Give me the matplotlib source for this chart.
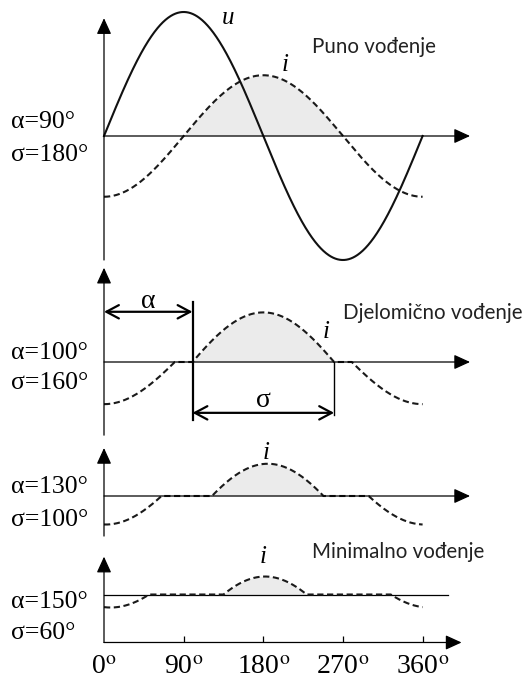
import numpy as np
import matplotlib.pyplot as plt

plt.rcParams['mathtext.fontset'] = 'stix'

# upravljacki kut i kut vodjenja (stupnjevi)
alpha = [90, 100, 130, 150]
sigma = [180, 160, 100, 60]
alpha_lbl = ['α=90°', 'α=100°', 'α=130°', 'α=150°']
sigma_lbl = ['σ=180°', 'σ=160°', 'σ=100°', 'σ=60°']
modes = ['Puno vođenje', 'Djelomično vođenje', '', 'Minimalno vođenje']

# struja i - ocitano sa slike
pos_start = [90, 100, 122, 135]
pos_end = [270, 260, 248, 229]
neg_end = [90, 80, 65, 51]
neg_start = [270, 280, 299, 324]
i_peak = [0.49, 0.40, 0.26, 0.145]
i_min = [-0.49, -0.34, -0.23, -0.105]
u_amp = 1.0

ticks = [0, 90, 180, 270, 360]
tick_lbl = ['0', '90', '180', '270', '360']

W, H = 528, 684
S = 124.0            # px po jedinici
X0, KX = 104, 0.885  # px za 0 stupnjeva, px po stupnju
bands = [(0, 262, 136), (262, 440, 362), (440, 540, 496), (540, 684, 594.5)]
lbl_dy = [(14, -19), (9, -21), (9, -24), (-7.5, -38.5)]  # px pomak oznaka alfa/sigma

serif = 'Liberation Serif'
sans = 'Lato'


def lobe(th, a, b, amp):
    c = (a + b) / 2
    h = np.radians((b - a) / 2)
    phi = np.radians(th - c)
    y = (np.cos(phi) - np.cos(h)) / (1 - np.cos(h))
    return np.where(np.abs(phi) <= h, amp * y, 0.0)


def arrow(ax, x0, y0, x1, y1, lw=0.9):
    ax.annotate('', xy=(x1, y1), xytext=(x0, y0),
                arrowprops=dict(arrowstyle='-|>,head_length=0.7,head_width=0.32',
                                lw=lw, color='k', mutation_scale=14,
                                shrinkA=0, shrinkB=0))


def dim(ax, x0, x1, y):
    ax.annotate('', xy=(x1, y), xytext=(x0, y),
                arrowprops=dict(arrowstyle='<->,head_length=0.6,head_width=0.32',
                                lw=1.6, color='k', mutation_scale=15,
                                shrinkA=0, shrinkB=0))


fig = plt.figure(figsize=(W / 100, H / 100), dpi=100)
th = np.linspace(0, 360, 721)

axes = []
for k, (a, b, z) in enumerate(bands):
    ax = fig.add_axes([0, 1 - b / H, 1, (b - a) / H])
    ax.set_xlim(-X0 / KX, (W - X0) / KX)
    ax.set_ylim(-(b - z) / S, (z - a) / S)
    ax.axis('off')
    axes.append(ax)

    i = lobe(th, pos_start[k], pos_end[k], i_peak[k])
    i += lobe(th, neg_start[k] - 360, neg_end[k], i_min[k])
    i += lobe(th - 360, neg_start[k] - 360, neg_end[k], i_min[k])

    ax.fill_between(th, 0, np.clip(i, 0, None), color='#ebebeb', lw=0, zorder=1)
    ax.plot(th, i, color='#1a1a1a', lw=1.5, dashes=(3.0, 1.7), zorder=3, clip_on=False)

    ax.text(-105, lbl_dy[k][0] / S, alpha_lbl[k], family=serif, fontsize=18.5,
            ha='left', va='center')
    ax.text(-105, lbl_dy[k][1] / S, sigma_lbl[k], family=serif, fontsize=18.5,
            ha='left', va='center')

# panel 1
ax = axes[0]
ax.plot(th, u_amp * np.sin(np.radians(th)), color='#111111', lw=1.5, zorder=3, clip_on=False)
arrow(ax, 0, 0, 413.6, 0)
arrow(ax, 0, -1.0, 0, 0.95)
ax.text(140, 0.95, 'u', family=serif, style='italic', fontsize=18, ha='center', va='center')
ax.text(204.5, 0.57, 'i', family=serif, style='italic', fontsize=18, ha='center', va='center')
ax.text(235, 0.72, modes[0], family=sans, fontsize=14.8, color='#222222', ha='left', va='center')

# panel 2
ax = axes[1]
arrow(ax, 0, 0, 413.6, 0)
arrow(ax, 0, -0.59, 0, 0.76)
ax.plot([alpha[1], alpha[1]], [-0.47, 0.48], color='k', lw=1.6, zorder=4)
ax.plot([alpha[1] + sigma[1]] * 2, [0, -0.43], color='k', lw=1.0, zorder=4)
dim(ax, 0, alpha[1], 0.405)
dim(ax, alpha[1], alpha[1] + sigma[1], -0.41)
ax.text(alpha[1] / 2, 0.49, 'α', family=serif, fontsize=20, ha='center', va='center')
ax.text(alpha[1] + sigma[1] / 2, -0.31, 'σ', family=serif, fontsize=20, ha='center', va='center')
ax.text(251, 0.24, 'i', family=serif, style='italic', fontsize=18, ha='center', va='center')
ax.text(270, 0.395, modes[1], family=sans, fontsize=14.8, color='#222222', ha='left', va='center')

# panel 3
ax = axes[2]
arrow(ax, 0, 0, 413.6, 0)
arrow(ax, 0, -0.323, 0, 0.387)
ax.text(183, 0.35, 'i', family=serif, style='italic', fontsize=18, ha='center', va='center')

# panel 4
ax = axes[3]
ax.plot([0, 389], [0, 0], color='k', lw=0.9, zorder=2)
yb = -0.387
arrow(ax, 0, yb, 404, yb)
arrow(ax, 0, yb, 0, 0.305)
ax.vlines(ticks[1:], yb, yb + 0.05, color='k', lw=0.9)
for t, s in zip(ticks, tick_lbl):
    ax.text(t, -0.585, s + r'$^{\mathrm{o}}$', family=serif, fontsize=20, ha='center', va='center')
ax.text(180, 0.30, 'i', family=serif, style='italic', fontsize=18, ha='center', va='center')
ax.text(235, 0.34, modes[3], family=sans, fontsize=14.8, color='#222222', ha='left', va='center')

fig.savefig('out.png', dpi=100)
